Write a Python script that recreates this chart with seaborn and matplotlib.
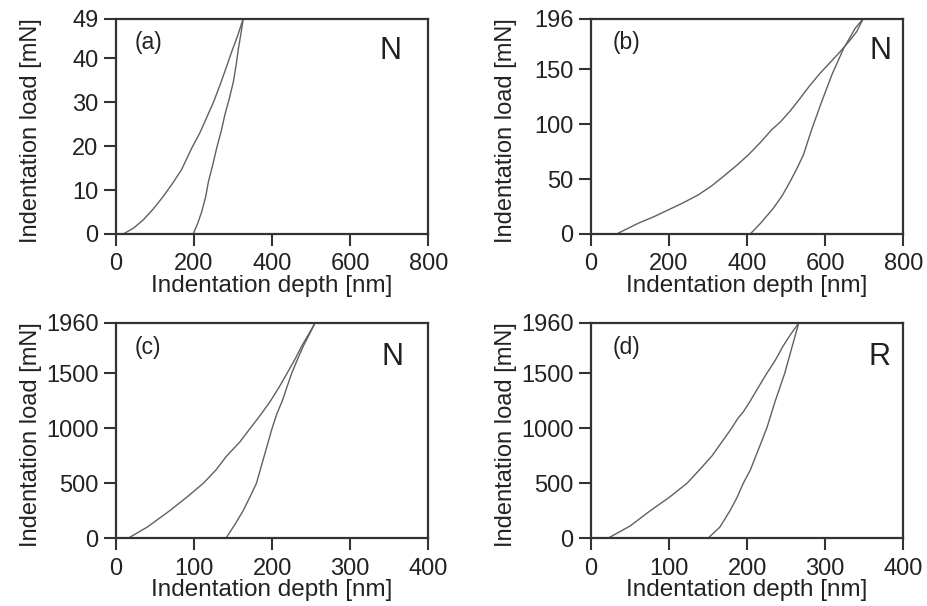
import seaborn as sns
import matplotlib.pyplot as plt
import pandas as pd

# load-displacement curves: depth [nm], load [mN]
a_load_x = [19, 45, 70, 95, 121, 145, 168, 194, 215, 232, 250, 267, 283, 297, 312, 326]
a_load_y = [0, 1.3, 3.2, 5.6, 8.5, 11.5, 14.6, 19.5, 23.0, 26.4, 30.0, 34.0, 38.0, 41.6, 45.2, 49]
a_unload_x = [198, 210, 220, 230, 237, 248, 258, 270, 279, 291, 301, 308, 314, 321, 326]
a_unload_y = [0, 2.5, 5.1, 8.5, 11.9, 15.7, 19.5, 23.5, 27.1, 31.0, 34.7, 38.5, 42.3, 46.0, 49]

b_load_x = [66, 121, 160, 198, 237, 275, 310, 344, 375, 403, 433, 463, 485, 510, 536, 560, 587, 612, 638, 660, 680, 697]
b_load_y = [0, 9.7, 15.5, 21.9, 28.5, 35.6, 44.0, 53.8, 63.0, 72.0, 83.0, 95.0, 102.0, 112.0, 123.7, 135.0, 146.5, 156.0, 166.0, 175.0, 184.0, 196]
b_unload_x = [408, 435, 467, 490, 510, 528, 544, 566, 591, 617, 647, 677, 697]
b_unload_y = [0, 10.0, 23.4, 35.0, 47.7, 60.0, 72.0, 96.0, 120.6, 145.0, 169.0, 187.5, 196]

c_load_x = [16, 40, 69, 92, 112, 128, 142, 158, 172, 186, 198, 209, 219, 229, 238, 247, 255]
c_load_y = [0, 100, 250, 380, 500, 620, 750, 870, 1000, 1130, 1250, 1375, 1500, 1625, 1750, 1860, 1960]
c_unload_x = [141, 152, 163, 172, 180, 190, 200, 206, 213, 219, 225, 232, 240, 248, 255]
c_unload_y = [0, 120, 250, 380, 500, 750, 1000, 1130, 1250, 1375, 1500, 1620, 1750, 1860, 1960]

d_load_x = [22, 50, 76, 100, 123, 140, 155, 168, 180, 188, 195, 204, 214, 225, 236, 246, 256, 266]
d_load_y = [0, 110, 250, 370, 500, 630, 750, 880, 1000, 1090, 1150, 1250, 1370, 1500, 1620, 1750, 1860, 1960]
d_unload_x = [150, 165, 178, 187, 195, 204, 214, 225, 236, 248, 257, 266]
d_unload_y = [0, 100, 250, 370, 500, 620, 800, 1000, 1250, 1500, 1730, 1960]

tags = ["(a)", "(b)", "(c)", "(d)"]
marks = ["N", "N", "N", "R"]
x_max = [800, 800, 400, 400]
x_ticks = [[0, 200, 400, 600, 800], [0, 200, 400, 600, 800],
           [0, 100, 200, 300, 400], [0, 100, 200, 300, 400]]
y_max = [49, 196, 1960, 1960]
y_ticks = [[0, 10, 20, 30, 40, 49], [0, 50, 100, 150, 196],
           [0, 500, 1000, 1500, 1960], [0, 500, 1000, 1500, 1960]]
curves = [(a_load_x, a_load_y, a_unload_x, a_unload_y),
          (b_load_x, b_load_y, b_unload_x, b_unload_y),
          (c_load_x, c_load_y, c_unload_x, c_unload_y),
          (d_load_x, d_load_y, d_unload_x, d_unload_y)]

sns.set_style("ticks")
plt.rcParams['font.family'] = ['Liberation Sans', 'DejaVu Sans']

fig = plt.figure(figsize=(9.27, 6.06), dpi=100)
boxes = [[0.125, 0.614, 0.337, 0.355], [0.6375, 0.614, 0.337, 0.355],
         [0.125, 0.112, 0.337, 0.355], [0.6375, 0.112, 0.337, 0.355]]
tag_pos = [(0.106, 0.89), (0.115, 0.89), (0.103, 0.884), (0.115, 0.884)]
mark_pos = [(0.88, 0.85), (0.926, 0.85), (0.885, 0.84), (0.923, 0.84)]

line_col = "#606060"
edge_col = "#333333"
text_col = "#222222"

for i, box in enumerate(boxes):
    ax = fig.add_axes(box)
    lx, ly, ux, uy = curves[i]
    df = pd.concat([
        pd.DataFrame({"depth": lx, "load": ly, "branch": "loading"}),
        pd.DataFrame({"depth": ux, "load": uy, "branch": "unloading"}),
    ])
    sns.lineplot(data=df, x="depth", y="load", units="branch", estimator=None,
                 sort=False, color=line_col, lw=1.0, ax=ax)
    ax.set_xlim(0, x_max[i])
    ax.set_ylim(0, y_max[i])
    ax.set_xticks(x_ticks[i])
    ax.set_yticks(y_ticks[i])
    ax.set_xlabel("Indentation depth [nm]", fontsize=17.5, color=text_col)
    ax.set_ylabel("Indentation load [mN]", fontsize=17, color=text_col)
    ax.xaxis.set_label_coords(0.5, -0.19)
    ax.yaxis.set_label_coords(-0.237, 0.48)
    ax.tick_params(labelsize=17, length=8.5, width=1.5, color=edge_col,
                   labelcolor=text_col, direction="out")
    ax.tick_params(axis="x", pad=5.5)
    ax.tick_params(axis="y", pad=4)
    for s in ax.spines.values():
        s.set_linewidth(1.6)
        s.set_color(edge_col)
    ax.text(*tag_pos[i], tags[i], transform=ax.transAxes, fontsize=16.5,
            ha="center", va="center", color=text_col)
    ax.text(*mark_pos[i], marks[i], transform=ax.transAxes, fontsize=22,
            ha="center", va="center", color=text_col)

fig.savefig("out.png", dpi=100)
